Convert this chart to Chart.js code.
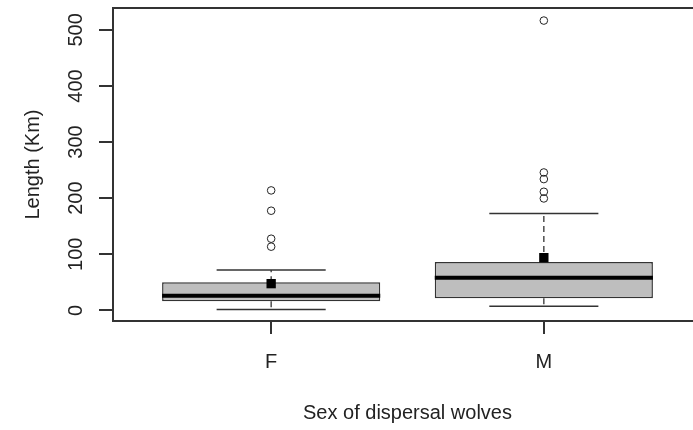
<!DOCTYPE html>
<html>
<head>
<meta charset="utf-8">
<script src="https://cdn.jsdelivr.net/npm/chart.js@4.4.0/dist/chart.umd.min.js"></script>
<style>
  html, body { margin: 0; padding: 0; background: #fff; overflow: hidden; }
  #wrap { width: 720px; height: 430px; }
</style>
</head>
<body>
<div id="wrap"><canvas id="myChart" width="720" height="430"></canvas></div>
<script>
// data
var groups = ["F", "M"];
var groupPos = [1, 2];
var q1 = [16.0, 21.4];
var medians = [25.8, 58.2];
var q3 = [49.9, 86.2];
var whiskerLo = [1.6, 7.1];
var whiskerHi = [72.0, 172.8];
var means = [47.6, 93.9];
var outliers = [
  [113.5, 127.7, 177.6, 213.8],
  [199.5, 211.4, 234.0, 245.8, 516.6]
];
var yTicks = [0, 100, 200, 300, 400, 500];

var FONT = '"Liberation Sans", Arial, sans-serif';
var INK = "#333";
var capHalf = 0.2;   // staple half width, x units
var boxHalf = 0.4;

var datasets = [];
datasets.push({
  type: "bar",
  data: groupPos.map(function (x, i) { return { x: x, y: [q1[i], q3[i]] }; }),
  backgroundColor: "#bebebe",
  borderColor: INK,
  borderWidth: 1.5,
  borderSkipped: false,
  barPercentage: 2 * boxHalf,
  categoryPercentage: 1,
  order: 6
});

groupPos.forEach(function (x, i) {
  // dashed whiskers
  datasets.push({
    type: "line",
    data: [{ x: x, y: q3[i] }, { x: x, y: whiskerHi[i] }],
    borderColor: INK, borderWidth: 1.3, borderDash: [6, 4], pointRadius: 0, order: 5
  });
  datasets.push({
    type: "line",
    data: [{ x: x, y: q1[i] }, { x: x, y: whiskerLo[i] }],
    borderColor: INK, borderWidth: 1.3, borderDash: [6, 4], pointRadius: 0, order: 5
  });
  // staples
  [whiskerHi[i], whiskerLo[i]].forEach(function (v) {
    datasets.push({
      type: "line",
      data: [{ x: x - capHalf, y: v }, { x: x + capHalf, y: v }],
      borderColor: INK, borderWidth: 1.5, pointRadius: 0, order: 4
    });
  });
  // median
  datasets.push({
    type: "line",
    data: [{ x: x - boxHalf, y: medians[i] }, { x: x + boxHalf, y: medians[i] }],
    borderColor: "#000", borderWidth: 4, pointRadius: 0, order: 3
  });
  // outliers
  datasets.push({
    type: "scatter",
    data: outliers[i].map(function (v) { return { x: x, y: v }; }),
    pointStyle: "circle", pointRadius: 3.8,
    borderColor: "#222", borderWidth: 1, backgroundColor: "rgba(0,0,0,0)", order: 2
  });
});

// means
datasets.push({
  type: "scatter",
  data: groupPos.map(function (x, i) { return { x: x, y: means[i] }; }),
  pointStyle: "rect", pointRadius: 6.6,
  backgroundColor: "#000", borderWidth: 0, order: 1
});

var frame = {
  id: "frame",
  afterDraw: function (chart) {
    var a = chart.chartArea, c = chart.ctx;
    c.save();
    c.strokeStyle = INK;
    c.lineWidth = 2;
    c.strokeRect(a.left, a.top, a.right - a.left, a.bottom - a.top);
    // y tick labels, rotated like R's
    var ys = chart.scales.y;
    c.fillStyle = "#222";
    c.font = "20px " + FONT;
    c.textAlign = "center";
    c.textBaseline = "alphabetic";
    var bx = ys.right - 14 - 17;
    ys.ticks.forEach(function (t) {
      c.save();
      c.translate(bx, ys.getPixelForValue(t.value));
      c.rotate(-Math.PI / 2);
      c.fillText(String(t.value), 0, 0);
      c.restore();
    });
    c.restore();
  }
};

var ctx = document.getElementById("myChart");
var myChart = new Chart(ctx, {
  type: "bar",
  data: { datasets: datasets },
  plugins: [frame],
  options: {
    responsive: false,
    animation: false,
    layout: { padding: { top: 8, right: 18, bottom: 0, left: 0 } },
    plugins: { legend: { display: false }, tooltip: { enabled: false } },
    scales: {
      x: {
        type: "linear",
        min: 0.42,
        max: 2.58,
        offset: false,
        afterBuildTicks: function (s) { s.ticks = groupPos.map(function (v) { return { value: v }; }); },
        afterFit: function (s) { s.height = 109; },
        border: { display: false },
        grid: { offset: false, drawOnChartArea: false, drawTicks: true, tickLength: 13, color: INK, lineWidth: 2 },
        ticks: {
          padding: 16,
          color: "#222",
          font: { family: FONT, size: 20 },
          callback: function (v) { return groups[groupPos.indexOf(v)]; }
        },
        title: {
          display: true,
          text: "Sex of dispersal wolves",
          color: "#222",
          font: { family: FONT, size: 20, lineHeight: 1.2 },
          padding: { top: 0, bottom: 5 }
        }
      },
      y: {
        type: "linear",
        min: -19,
        max: 539,
        afterBuildTicks: function (s) { s.ticks = yTicks.map(function (v) { return { value: v }; }); },
        afterFit: function (s) { s.width = 113; },
        border: { display: false },
        grid: { drawOnChartArea: false, drawTicks: true, tickLength: 14, color: INK, lineWidth: 2 },
        ticks: { display: false },
        title: {
          display: true,
          text: "Length (Km)",
          color: "#222",
          font: { family: FONT, size: 20, lineHeight: 1.2 },
          padding: { top: 21, bottom: 0 }
        }
      }
    }
  }
});
</script>
</body>
</html>
